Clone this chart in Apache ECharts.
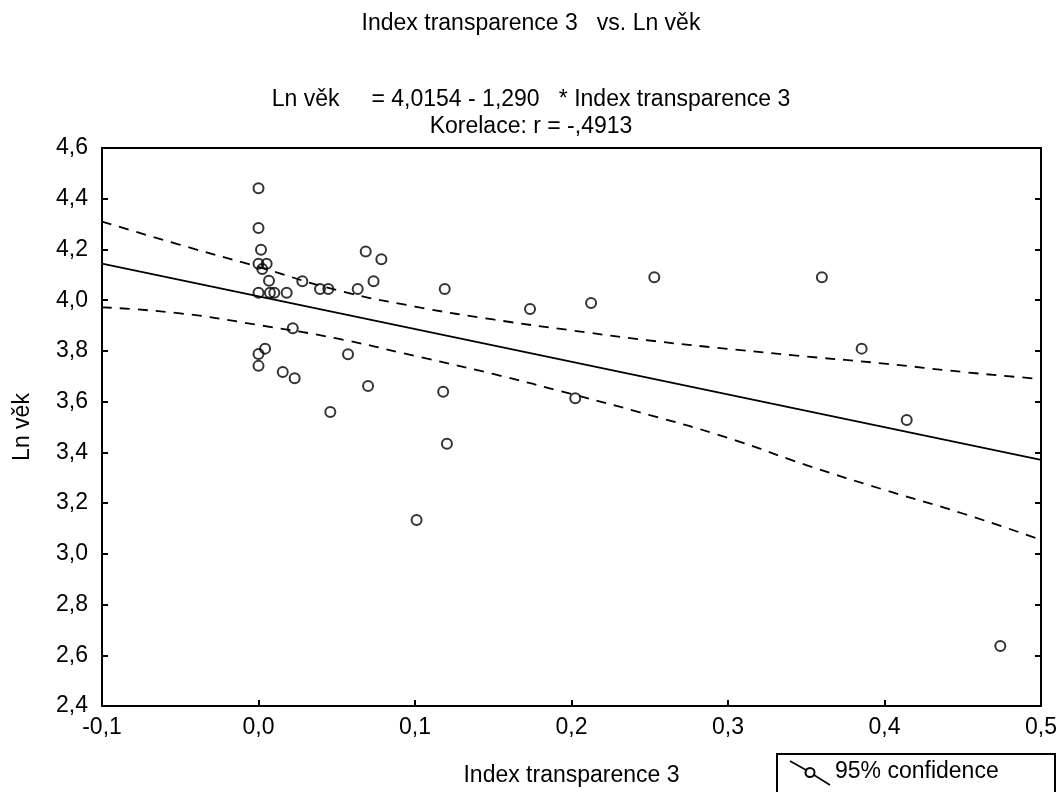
<!DOCTYPE html>
<html>
<head>
<meta charset="utf-8">
<script src="https://cdn.jsdelivr.net/npm/echarts@6/dist/echarts.min.js"></script>
<style>
html,body{margin:0;padding:0;background:#fff;}
#chart{width:1062px;height:792px;}
</style>
</head>
<body>
<div id="chart"></div>
<script>
// Observed points
var xVals = [0, 0, 0.0016, 0, 0.0052, 0.0024, 0.0067, 0, 0.0073, 0.0101, 0.018, 0.028, 0.0393, 0.0446, 0.0634,
  0.0685, 0.0785, 0.0735, 0.119, 0.0219, 0.0042, 0, 0, 0.0155, 0.0231, 0.0572, 0.070, 0.0459, 0.118, 0.1204,
  0.1735, 0.2125, 0.2529, 0.2024, 0.360, 0.3854, 0.4142, 0.101, 0.474];
var yVals = [4.441, 4.285, 4.199, 4.144, 4.144, 4.123, 4.077, 4.029, 4.029, 4.029, 4.029, 4.075, 4.044, 4.044, 4.044,
  4.192, 4.161, 4.075, 4.044, 3.889, 3.809, 3.788, 3.741, 3.717, 3.692, 3.787, 3.662, 3.559, 3.639, 3.434,
  3.965, 3.989, 4.090, 3.613, 4.090, 3.809, 3.528, 3.133, 2.637];

// Regression line (Ln věk = 4,0154 - 1,290 * Index transparence 3), endpoints
var regX = [-0.1, 0.5];
var regY = [4.144, 3.370];

// 95% confidence band
var bandX = [-0.1, -0.05, 0, 0.05, 0.1, 0.15, 0.2, 0.25, 0.3, 0.35, 0.4, 0.45, 0.5];
var upperBand = [4.310, 4.218, 4.131, 4.040, 3.975, 3.924, 3.881, 3.841, 3.808, 3.778, 3.750, 3.717, 3.689];
var lowerBand = [3.972, 3.948, 3.902, 3.849, 3.780, 3.709, 3.630, 3.547, 3.457, 3.350, 3.252, 3.159, 3.055];

// Axis ticks
var xTicks = {min: -0.1, max: 0.5, step: 0.1};
var yTicks = {min: 2.4, max: 4.6, step: 0.2};

function zip(a, b) { return a.map(function (v, i) { return [v, b[i]]; }); }
function fmt(d) { return function (v) { return v.toFixed(d).replace('.', ','); }; }

var FONT = 'Liberation Sans, Arial, sans-serif';
var NARROW = '"Liberation Sans Narrow", "Liberation Sans", Arial, sans-serif';
var chart = echarts.init(document.getElementById('chart'), null, {renderer: 'canvas'});
var option = {
  backgroundColor: '#fff',
  animation: false,
  title: [
    {text: 'Index transparence 3   vs. Ln věk', left: 'center', top: 7,
      textStyle: {fontFamily: NARROW, fontSize: 23, fontWeight: 'normal', color: '#000'}},
    {text: 'Ln věk     = 4,0154 - 1,290   * Index transparence 3\nKorelace: r = -,4913', left: 'center', top: 81,
      textStyle: {fontFamily: NARROW, fontSize: 23, fontWeight: 'normal', color: '#000', lineHeight: 27}}
  ],
  grid: {left: 102, right: 21, top: 148, bottom: 86, containLabel: false, outerBoundsMode: 'none'},
  xAxis: [{
    type: 'value', min: xTicks.min, max: xTicks.max, interval: xTicks.step,
    name: 'Index transparence 3', nameLocation: 'middle', nameGap: 58,
    nameTextStyle: {fontFamily: NARROW, fontSize: 23, color: '#000'},
    axisLine: {show: true, onZero: false, lineStyle: {color: '#000', width: 2}},
    axisTick: {show: true, inside: true, length: 6, lineStyle: {color: '#000', width: 2}},
    axisLabel: {fontFamily: FONT, fontSize: 23, color: '#000', margin: 10, formatter: fmt(1),
      showMinLabel: true, showMaxLabel: true},
    splitLine: {show: false}
  }, {
    type: 'value', position: 'top', min: xTicks.min, max: xTicks.max, interval: xTicks.step,
    axisLine: {show: true, onZero: false, lineStyle: {color: '#000', width: 2}},
    axisTick: {show: false}, axisLabel: {show: false}, splitLine: {show: false}
  }],
  yAxis: [{
    type: 'value', min: yTicks.min, max: yTicks.max, interval: yTicks.step,
    name: 'Ln věk', nameLocation: 'middle', nameGap: 68,
    nameTextStyle: {fontFamily: NARROW, fontSize: 23, color: '#000'},
    axisLine: {show: true, onZero: false, lineStyle: {color: '#000', width: 2}},
    axisTick: {show: true, inside: true, length: 6, lineStyle: {color: '#000', width: 2}},
    axisLabel: {fontFamily: FONT, fontSize: 23, color: '#000', margin: 14, formatter: fmt(1)},
    splitLine: {show: false}
  }, {
    type: 'value', position: 'right', min: yTicks.min, max: yTicks.max, interval: yTicks.step,
    axisLine: {show: true, onZero: false, lineStyle: {color: '#000', width: 2}},
    axisTick: {show: true, inside: true, length: 6, lineStyle: {color: '#000', width: 2}},
    axisLabel: {show: false}, splitLine: {show: false}
  }],
  series: [
    {type: 'line', name: 'Upper 95%', data: zip(bandX, upperBand), smooth: true, symbol: 'none',
      lineStyle: {color: '#000', width: 1.8, type: [10, 8]}, z: 2},
    {type: 'line', name: 'Lower 95%', data: zip(bandX, lowerBand), smooth: true, symbol: 'none',
      lineStyle: {color: '#000', width: 1.8, type: [10, 8]}, z: 2},
    {type: 'line', name: 'Regression', data: zip(regX, regY), symbol: 'none',
      lineStyle: {color: '#000', width: 1.8}, z: 2},
    {type: 'scatter', name: 'Data', data: zip(xVals, yVals), symbol: 'circle', symbolSize: 10,
      itemStyle: {color: 'rgba(255,255,255,0)', borderColor: '#000', borderWidth: 2}, z: 3}
  ],
  graphic: [
    {type: 'rect', left: 776, top: 753, shape: {width: 278, height: 50},
      style: {fill: '#fff', stroke: '#000', lineWidth: 2}, z: 10},
    {type: 'line', shape: {x1: 790, y1: 761, x2: 806, y2: 770}, style: {stroke: '#000', lineWidth: 1.5}, z: 11},
    {type: 'circle', shape: {cx: 810, cy: 772.5, r: 4.5}, style: {fill: '#fff', stroke: '#000', lineWidth: 2}, z: 11},
    {type: 'line', shape: {x1: 814, y1: 775, x2: 830, y2: 785}, style: {stroke: '#000', lineWidth: 1.5}, z: 11},
    {type: 'text', left: 835, top: 760, style: {text: '95% confidence', font: '23px ' + NARROW, fill: '#000'}, z: 11}
  ]
};
chart.setOption(option);
</script>
</body>
</html>
